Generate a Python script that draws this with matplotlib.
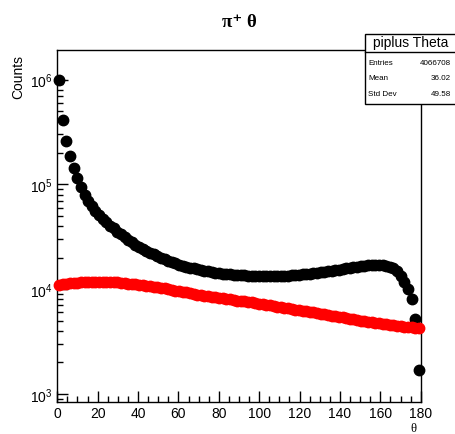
import numpy as np
import matplotlib
matplotlib.use('Agg')
import matplotlib.pyplot as plt
from matplotlib.ticker import MultipleLocator, LogLocator, NullFormatter
from matplotlib.patches import Rectangle

plt.rcParams['font.family'] = ['Liberation Sans', 'DejaVu Sans']

# histogram: 100 bins of 1.8 deg over 0..180
bin_edges = np.linspace(0, 180, 101)

# black: all pi+ (counts per bin)
theta_all = [1.0e6, 4.1e5, 2.6e5, 1.85e5, 1.42e5, 1.15e5, 9.5e4, 8.0e4, 7.0e4, 6.2e4,
             5.6e4, 5.1e4, 4.7e4, 4.35e4, 4.05e4, 3.8e4, 3.55e4, 3.35e4, 3.15e4, 2.95e4,
             2.8e4, 2.65e4, 2.52e4, 2.42e4, 2.32e4, 2.23e4, 2.15e4, 2.07e4, 2.0e4, 1.93e4,
             1.87e4, 1.82e4, 1.77e4, 1.72e4, 1.68e4, 1.64e4, 1.61e4, 1.58e4, 1.55e4, 1.52e4,
             1.5e4, 1.48e4, 1.46e4, 1.44e4, 1.42e4, 1.41e4, 1.40e4, 1.39e4, 1.38e4, 1.37e4,
             1.36e4, 1.355e4, 1.35e4, 1.345e4, 1.34e4, 1.335e4, 1.33e4, 1.33e4, 1.33e4, 1.33e4,
             1.335e4, 1.34e4, 1.345e4, 1.35e4, 1.36e4, 1.37e4, 1.38e4, 1.39e4, 1.40e4, 1.41e4,
             1.42e4, 1.44e4, 1.45e4, 1.47e4, 1.49e4, 1.50e4, 1.52e4, 1.54e4, 1.56e4, 1.58e4,
             1.60e4, 1.62e4, 1.64e4, 1.66e4, 1.68e4, 1.69e4, 1.70e4, 1.71e4, 1.71e4, 1.70e4,
             1.68e4, 1.64e4, 1.58e4, 1.48e4, 1.33e4, 1.17e4, 1.0e4, 8.0e3, 5.2e3, 1.7e3]

# red: selected pi+
theta_sel = [1.10e4, 1.12e4, 1.13e4, 1.14e4, 1.15e4, 1.15e4, 1.16e4, 1.16e4, 1.17e4, 1.17e4,
             1.18e4, 1.18e4, 1.17e4, 1.18e4, 1.17e4, 1.16e4, 1.16e4, 1.15e4, 1.14e4, 1.13e4,
             1.12e4, 1.11e4, 1.10e4, 1.09e4, 1.08e4, 1.07e4, 1.06e4, 1.05e4, 1.03e4, 1.02e4,
             1.00e4, 9.9e3, 9.7e3, 9.6e3, 9.4e3, 9.3e3, 9.1e3, 9.0e3, 8.9e3, 8.8e3,
             8.7e3, 8.6e3, 8.5e3, 8.4e3, 8.3e3, 8.2e3, 8.1e3, 8.0e3, 7.9e3, 7.8e3,
             7.75e3, 7.7e3, 7.6e3, 7.5e3, 7.4e3, 7.3e3, 7.2e3, 7.1e3, 7.0e3, 6.9e3,
             6.8e3, 6.7e3, 6.65e3, 6.6e3, 6.5e3, 6.4e3, 6.3e3, 6.25e3, 6.15e3, 6.05e3,
             6.0e3, 5.9e3, 5.85e3, 5.75e3, 5.7e3, 5.6e3, 5.55e3, 5.45e3, 5.4e3, 5.3e3,
             5.25e3, 5.15e3, 5.1e3, 5.0e3, 4.95e3, 4.9e3, 4.85e3, 4.8e3, 4.75e3, 4.7e3,
             4.65e3, 4.6e3, 4.55e3, 4.5e3, 4.45e3, 4.4e3, 4.4e3, 4.35e3, 4.3e3, 4.3e3]

stats_labels = ['Entries', 'Mean', 'Std Dev']
stats_values = ['4066708', '36.02', '49.58']

centers = 0.5 * (bin_edges[:-1] + bin_edges[1:])

W, H = 455, 435
fig = plt.figure(figsize=(W / 100, H / 100), dpi=100)
ax = fig.add_axes([57.3 / W, 1 - 403.3 / H, 363.4 / W, 352.6 / H])

ax.plot(centers, theta_all, 'o', color='black', ms=7.5, mec='black', clip_on=False, zorder=3)
ax.plot(centers, theta_sel, 'o', color='#ff0000', ms=7.5, mec='#ff0000', clip_on=False, zorder=4)

ax.set_yscale('log')
ax.set_xlim(0, 180)
ax.set_ylim(833, 1.93e6)
ax.xaxis.set_major_locator(MultipleLocator(20))
ax.xaxis.set_minor_locator(MultipleLocator(5))
ax.yaxis.set_major_locator(LogLocator(base=10))
ax.yaxis.set_minor_locator(LogLocator(base=10, subs=np.arange(2, 10)))
ax.yaxis.set_minor_formatter(NullFormatter())
ax.tick_params(which='both', direction='in', top=False, right=False, labelsize=10, width=1)
ax.tick_params(which='major', length=8)
ax.tick_params(which='minor', length=4)
ax.tick_params(axis='x', pad=3)
for sp in ax.spines.values():
    sp.set_linewidth(1)

fig.text(239.5 / W, 1 - 22.7 / H, 'π⁺ θ', ha='center', va='center', size=13.5,
         weight='bold', family=['Liberation Serif', 'DejaVu Serif'])
fig.text(18 / W, 1 - 55 / H, 'Counts', rotation=90, ha='center', va='top', size=10)
fig.text(413 / W, 1 - 429 / H, 'θ', ha='center', va='center', size=9,
         family=['Liberation Serif', 'DejaVu Serif'])

# stats box
fig.patches.append(Rectangle((365 / W, 1 - 105 / H), 110 / W, 70 / H, transform=fig.transFigure,
                             facecolor='white', edgecolor='black', lw=1, zorder=10))
fig.add_artist(plt.Line2D([365 / W, 1.0], [1 - 52.5 / H] * 2, color='black', lw=1, zorder=11))
fig.text(411 / W, 1 - 43.5 / H, 'piplus Theta', ha='center', va='center', size=10, zorder=12)
for i, (lab, val) in enumerate(zip(stats_labels, stats_values)):
    yy = 1 - (63.3 + 15.5 * i) / H
    fig.text(368 / W, yy, lab, ha='left', va='center', size=5.8, zorder=12)
    fig.text(451 / W, yy, val, ha='right', va='center', size=5.8, zorder=12)

fig.savefig('out.png', dpi=100)
